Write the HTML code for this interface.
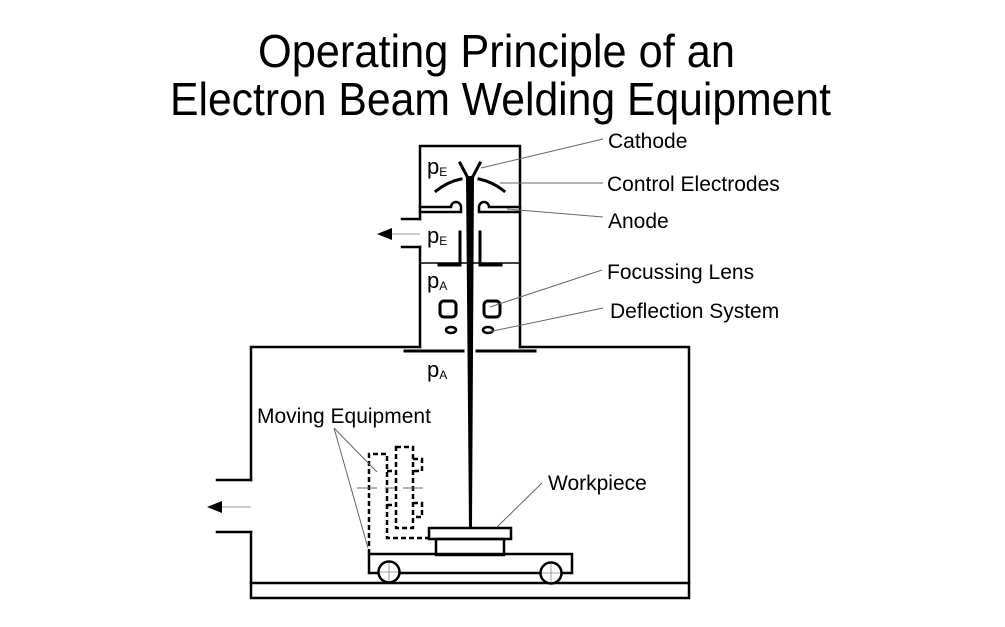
<!DOCTYPE html>
<html><head><meta charset="utf-8"><style>
html,body{margin:0;padding:0;background:#fff;}
svg{display:block;}
text{font-family:"Liberation Sans",Arial,sans-serif;fill:#000;}
</style></head><body>
<svg width="1005" height="627" viewBox="0 0 1005 627" xmlns="http://www.w3.org/2000/svg">
<rect width="1005" height="627" fill="#fff"/>
<!-- Title -->
<text x="258" y="67" font-size="46" textLength="477" lengthAdjust="spacingAndGlyphs">Operating Principle of an</text>
<text x="170" y="115" font-size="46" textLength="661" lengthAdjust="spacingAndGlyphs">Electron Beam Welding Equipment</text>

<g fill="none" stroke="#000" stroke-width="2.5" stroke-linecap="square">
  <!-- chamber -->
  <path d="M251,480 V347 H420"/>
  <path d="M520,347 H689 V598 H251 V532"/>
  <path d="M217,480 H251"/>
  <path d="M217,532 H251"/>
  <path d="M251,583 H689"/>
  <!-- column -->
  <path d="M420,219 V146 H520 V347"/>
  <path d="M420,247 V347"/>
  <path d="M402,219 H420"/>
  <path d="M402,247 H420"/>
  <!-- anode -->
  <path d="M420,207 H451 A5,5 0 0 1 461,207 V212 H420"/>
  <path d="M520,207 H489 A5,5 0 0 0 479,207 V212 H520"/>
  <!-- inner baffles -->
  <path d="M439,265 H460 V232" stroke-width="3"/>
  <path d="M501,265 H480 V232" stroke-width="3"/>
  <!-- bottom plate -->
  <path d="M405,351 H463" stroke-width="3"/>
  <path d="M477,351 H535" stroke-width="3"/>
  <!-- cathode -->
  <path d="M460,163 L469,180" stroke-width="3"/>
  <path d="M480,163 L471,180" stroke-width="3"/>
  <!-- control electrodes -->
  <path d="M436,191 Q447,182 461,179" stroke-width="3"/>
  <path d="M504,191 Q493,182 479,179" stroke-width="3"/>
  <!-- lens -->
  <rect x="440" y="301" width="16" height="16" rx="4" stroke-width="3"/>
  <rect x="484" y="301" width="16" height="16" rx="4" stroke-width="3"/>
  <ellipse cx="451" cy="330" rx="5" ry="3" stroke-width="2.5"/>
  <ellipse cx="488" cy="330" rx="5" ry="3" stroke-width="2.5"/>
  <!-- workpiece -->
  <rect x="429" y="528" width="82" height="11"/>
  <rect x="436" y="539" width="68" height="16"/>
  <!-- cart -->
  <path d="M369,554 H572 V573 H369 Z"/>
</g>
<!-- separator thin line -->
<path d="M420,263 H520" stroke="#000" stroke-width="1.5"/>
<!-- beam -->
<polygon points="466,176 474,176 472,528 469,528" fill="#000"/>
<!-- wheels -->
<g stroke="#000" fill="#fff">
  <circle cx="389" cy="572" r="10.5" stroke-width="2.5"/>
  <circle cx="551" cy="573" r="10.5" stroke-width="2.5"/>
  <path d="M389,563 V581 M380,572 H398 M551,564 V582 M542,573 H560" stroke="#888" stroke-width="0.8" fill="none"/>
</g>
<!-- dashed moving equipment -->
<g fill="none" stroke="#000" stroke-width="2.5" stroke-dasharray="5,3">
  <path d="M369,554 V454 H387 V538 H430"/>
  <path d="M387,471 H396"/>
  <path d="M387,505 H396"/>
  <rect x="396" y="447" width="17" height="81"/>
  <path d="M413,459 H422 V471 H413"/>
  <path d="M413,503 H422 V517 H413"/>
</g>
<path d="M357,488 H430" stroke="#666" stroke-width="1" stroke-dasharray="20,8,10,8"/>
<!-- arrows -->
<path d="M392,234 H420" stroke="#999" stroke-width="1"/>
<polygon points="377,234 392,228 392,240" fill="#000"/>
<path d="M222,507 H251" stroke="#999" stroke-width="1"/>
<polygon points="207,507 222,501 222,513" fill="#000"/>
<!-- leaders -->
<g stroke="#666" stroke-width="1" fill="none">
  <path d="M603,139 L481,168"/>
  <path d="M603,183 H500"/>
  <path d="M603,217 L507,209"/>
  <path d="M602,270 L490,307"/>
  <path d="M603,308 L488,332"/>
  <path d="M334,428 L377,472"/>
  <path d="M334,428 L368,548"/>
  <path d="M542,483 L497,527"/>
</g>
<!-- labels -->
<g font-size="21">
  <text x="608" y="148">Cathode</text>
  <text x="607" y="191">Control Electrodes</text>
  <text x="608" y="228">Anode</text>
  <text x="607" y="279">Focussing Lens</text>
  <text x="610" y="318">Deflection System</text>
  <text x="257" y="423">Moving Equipment</text>
  <text x="548" y="490">Workpiece</text>
</g>
<g font-size="22">
  <text x="427" y="174">p<tspan font-size="12" dy="2">E</tspan></text>
  <text x="427" y="243">p<tspan font-size="12" dy="2">E</tspan></text>
  <text x="427" y="288">p<tspan font-size="12" dy="2">A</tspan></text>
  <text x="427" y="377">p<tspan font-size="12" dy="2">A</tspan></text>
</g>
</svg>
</body></html>
